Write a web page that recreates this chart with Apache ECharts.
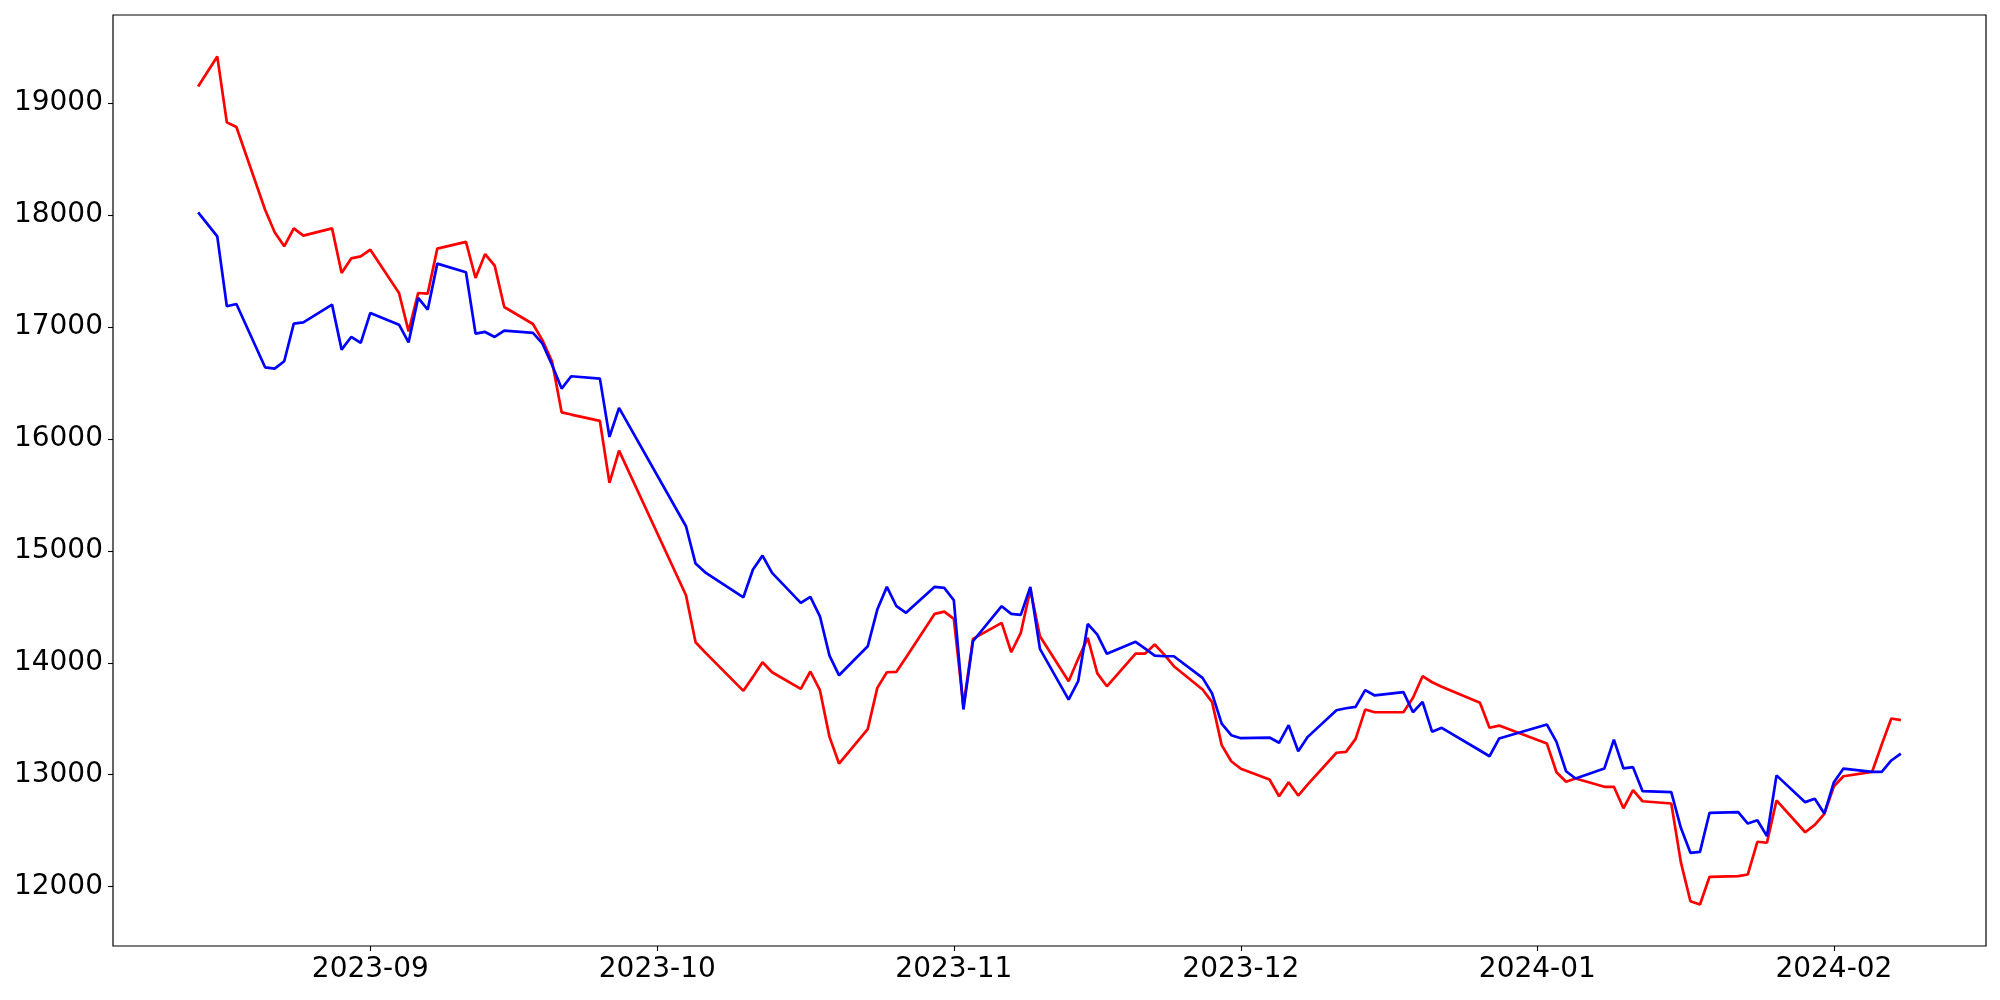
<!DOCTYPE html>
<html>
<head>
<meta charset="utf-8">
<title>line chart</title>
<script src="https://cdn.jsdelivr.net/npm/echarts@6/dist/echarts.min.js"></script>
<style>
  body { margin: 0; background: #fff; }
  #main { width: 2000px; height: 1000px; }
</style>
</head>
<body>
<div id="main"></div>
<script>
  // trading days
  var dates = [
    '2023-08-14', '2023-08-16', '2023-08-17', '2023-08-18', '2023-08-21', '2023-08-22', '2023-08-23', '2023-08-24', '2023-08-25',
    '2023-08-28', '2023-08-29', '2023-08-30', '2023-08-31', '2023-09-01', '2023-09-04', '2023-09-05', '2023-09-06', '2023-09-07',
    '2023-09-08', '2023-09-11', '2023-09-12', '2023-09-13', '2023-09-14', '2023-09-15', '2023-09-18', '2023-09-19', '2023-09-20',
    '2023-09-21', '2023-09-22', '2023-09-25', '2023-09-26', '2023-09-27', '2023-10-04', '2023-10-05', '2023-10-06', '2023-10-10',
    '2023-10-11', '2023-10-12', '2023-10-13', '2023-10-16', '2023-10-17', '2023-10-18', '2023-10-19', '2023-10-20', '2023-10-23',
    '2023-10-24', '2023-10-25', '2023-10-26', '2023-10-27', '2023-10-30', '2023-10-31', '2023-11-01', '2023-11-02', '2023-11-03',
    '2023-11-06', '2023-11-07', '2023-11-08', '2023-11-09', '2023-11-10', '2023-11-13', '2023-11-14', '2023-11-15', '2023-11-16',
    '2023-11-17', '2023-11-20', '2023-11-21', '2023-11-22', '2023-11-23', '2023-11-24', '2023-11-27', '2023-11-28', '2023-11-29',
    '2023-11-30', '2023-12-01', '2023-12-04', '2023-12-05', '2023-12-06', '2023-12-07', '2023-12-08', '2023-12-11', '2023-12-12',
    '2023-12-13', '2023-12-14', '2023-12-15', '2023-12-18', '2023-12-19', '2023-12-20', '2023-12-21', '2023-12-22', '2023-12-26',
    '2023-12-27', '2023-12-28', '2024-01-02', '2024-01-03', '2024-01-04', '2024-01-05', '2024-01-08', '2024-01-09', '2024-01-10',
    '2024-01-11', '2024-01-12', '2024-01-15', '2024-01-16', '2024-01-17', '2024-01-18', '2024-01-19', '2024-01-22', '2024-01-23',
    '2024-01-24', '2024-01-25', '2024-01-26', '2024-01-29', '2024-01-30', '2024-01-31', '2024-02-01', '2024-02-02', '2024-02-05',
    '2024-02-06', '2024-02-07', '2024-02-08'
  ];

  // red line
  var redValues = [
    19148, 19416, 18827, 18786, 18047, 17845, 17720, 17880, 17815,
    17880, 17482, 17612, 17630, 17690, 17303, 16960, 17303, 17297,
    17699, 17759, 17437, 17651, 17547, 17178, 17026, 16880, 16690,
    16237, 16217, 16160, 15607, 15895, 14603, 14183, 14093, 13749,
    13874, 14005, 13915, 13767, 13922, 13755, 13338, 13100, 13407,
    13776, 13915, 13919, 14047, 14437, 14457, 14392, 13612, 14213,
    14356, 14094, 14267, 14654, 14237, 13835, 14035, 14222, 13905,
    13790, 14082, 14082, 14163, 14073, 13969, 13761, 13648, 13264,
    13120, 13053, 12957, 12808, 12933, 12814, 12913, 13196, 13204,
    13320, 13582, 13558, 13558, 13687, 13880, 13826, 13785, 13642,
    13419, 13439, 13278, 13022, 12937, 12966, 12892, 12892, 12700,
    12862, 12763, 12743, 12219, 11870, 11841, 12088, 12094, 12109,
    12401, 12392, 12770, 12486, 12552, 12651, 12897, 12986, 13026,
    13270, 13502, 13487
  ];

  // blue line
  var blueValues = [
    18023, 17809, 17184, 17205, 16639, 16627, 16693, 17029, 17041,
    17199, 16797, 16910, 16857, 17125, 17020, 16862, 17259, 17154,
    17565, 17488, 16940, 16955, 16910, 16967, 16946, 16851, 16660,
    16449, 16559, 16538, 16017, 16276, 15219, 14886, 14808, 14585,
    14833, 14957, 14803, 14535, 14589, 14415, 14064, 13888, 14147,
    14475, 14678, 14505, 14446, 14678, 14669, 14558, 13583, 14192,
    14505, 14437, 14428, 14678, 14124, 13671, 13835, 14347, 14252,
    14080, 14187, 14127, 14064, 14058, 14058, 13865, 13725, 13457,
    13353, 13326, 13332, 13285, 13442, 13210, 13338, 13576, 13594,
    13606, 13755, 13708, 13737, 13558, 13651, 13383, 13419, 13216,
    13165, 13323, 13448, 13294, 13031, 12966, 13055, 13314, 13056,
    13067, 12853, 12844, 12526, 12302, 12311, 12660, 12665, 12564,
    12593, 12451, 12994, 12755, 12785, 12653, 12933, 13055, 13026,
    13026, 13127, 13189
  ];

  var yTicks = [12000, 13000, 14000, 15000, 16000, 17000, 18000, 19000];
  var monthTicks = ['2023-09-01', '2023-10-01', '2023-11-01', '2023-12-01', '2024-01-01', '2024-02-01'];

  // 'YYYY-MM-DD' -> timestamp (UTC, so formatting below matches)
  function toTime(s) {
    var p = s.split('-');
    return Date.UTC(+p[0], +p[1] - 1, +p[2]);
  }

  var DAY = 24 * 3600 * 1000;
  var xMin = toTime(dates[0]) - 8.9 * DAY;   // 5% margins like matplotlib
  var xMax = toTime(dates[dates.length - 1]) + 8.9 * DAY;
  var monthTimes = monthTicks.map(toTime);

  function pairs(vals) {
    return dates.map(function (d, i) { return [toTime(d), vals[i]]; });
  }

  var tickStyle = { color: '#000', width: 1.1 };

  var chart = echarts.init(document.getElementById('main'));
  chart.setOption({
    animation: false,
    backgroundColor: '#fff',
    grid: {
      left: 113, right: 14, top: 15, bottom: 54,
      show: true, borderColor: '#000', borderWidth: 1.2, backgroundColor: 'transparent'
    },
    // timestamps on a value axis so the month ticks can be placed exactly
    xAxis: {
      type: 'value',
      min: xMin,
      max: xMax,
      axisLine: { show: false },
      axisTick: { show: true, inside: false, length: 5, lineStyle: tickStyle, customValues: monthTimes },
      axisLabel: {
        margin: 10,
        fontFamily: 'DejaVu Sans', fontSize: 28, color: '#000',
        customValues: monthTimes,
        formatter: function (v) {
          var d = new Date(v);
          var m = d.getUTCMonth() + 1;
          return d.getUTCFullYear() + '-' + (m < 10 ? '0' + m : m);
        }
      },
      splitLine: { show: false }
    },
    yAxis: {
      type: 'value',
      min: 11470,
      max: 19786,
      axisLine: { show: false },
      axisTick: { show: true, inside: false, length: 5, lineStyle: tickStyle, customValues: yTicks },
      axisLabel: {
        margin: 10, fontFamily: 'DejaVu Sans', fontSize: 28, color: '#000',
        customValues: yTicks,
        formatter: function (v) { return String(v); }
      },
      splitLine: { show: false }
    },
    series: [
      {
        name: 'red', type: 'line', showSymbol: false,
        lineStyle: { color: '#ff0000', width: 2.7 },
        itemStyle: { color: '#ff0000' },
        data: pairs(redValues)
      },
      {
        name: 'blue', type: 'line', showSymbol: false,
        lineStyle: { color: '#0000ff', width: 2.7 },
        itemStyle: { color: '#0000ff' },
        data: pairs(blueValues)
      }
    ]
  });
</script>
</body>
</html>
